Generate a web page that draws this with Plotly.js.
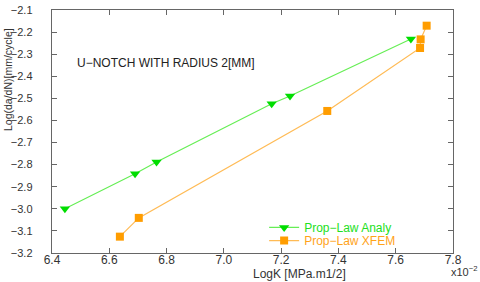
<!DOCTYPE html>
<html><head><meta charset="utf-8">
<script src="https://cdn.plot.ly/plotly-3.0.1.min.js"></script>
<style>html,body{margin:0;padding:0;background:#fff}#c{width:480px;height:282px}</style>
</head><body><div id="c"></div>
<script>
const analyX = [6.445, 6.69, 6.765, 7.167, 7.231, 7.653];
const analyY = [-3.0, -2.841, -2.788, -2.524, -2.489, -2.231];
const xfemX = [6.637, 6.703, 7.361, 7.685, 7.687, 7.708];
const xfemY = [-3.126, -3.041, -2.557, -2.272, -2.233, -2.171];
const xTicks = [6.4, 6.6, 6.8, 7.0, 7.2, 7.4, 7.6, 7.8];
const yTicks = [-2.1, -2.2, -2.3, -2.4, -2.5, -2.6, -2.7, -2.8, -2.9, -3.0, -3.1, -3.2];
const seriesNames = ['Prop\u2212Law Analy', 'Prop\u2212Law XFEM'];
const titleText = 'U\u2212NOTCH WITH RADIUS 2[MM]';
const xLabel = 'LogK [MPa.m1/2]';
const yLabel = 'Log(da/dN)[mm/cycle]';

const font = 'Liberation Sans, Arial, sans-serif';
const traces = [
  {x: analyX, y: analyY, mode: 'lines+markers', name: '<span style="color:#22e022">' + seriesNames[0] + '</span>', legend: 'legend',
   line: {color: '#66ee55', width: 1.2}, marker: {symbol: 'triangle-down', size: 9, color: '#00dd00'}},
  {x: xfemX, y: xfemY, mode: 'lines+markers', name: '<span style="color:#ffa31a">' + seriesNames[1] + '</span>', legend: 'legend2',
   line: {color: '#ffbb55', width: 1.2}, marker: {symbol: 'square', size: 8, color: '#ff9d00'}}
];
const axisCommon = {showgrid: false, zeroline: false, showline: true, linecolor: '#666', linewidth: 1.3,
  mirror: 'ticks', ticks: 'inside', ticklen: 5, tickcolor: '#666'};
const legendCommon = {xanchor: 'left', yanchor: 'top', bgcolor: 'rgba(0,0,0,0)', font: {family: font, size: 12}};
const layout = {
  width: 480, height: 282, margin: {l: 52, r: 27, t: 10, b: 29},
  paper_bgcolor: '#fff', plot_bgcolor: '#fff', font: {family: font},
  xaxis: Object.assign({}, axisCommon, {range: [6.4, 7.8], tickvals: xTicks, ticktext: xTicks.map(v => v.toFixed(1)), ticklabelstandoff: -5,
    tickfont: {family: font, size: 12, color: '#333'}}),
  yaxis: Object.assign({}, axisCommon, {range: [-3.2, -2.1], tickvals: yTicks, ticktext: yTicks.map(v => '\u2212' + Math.abs(v).toFixed(1)), ticklabelstandoff: 16,
    tickfont: {family: font, size: 11, color: '#333'}}),
  showlegend: true,
  legend: Object.assign({}, legendCommon, {x: 0.529, y: 0.165}),
  legend2: Object.assign({}, legendCommon, {x: 0.529, y: 0.111}),
  annotations: [
    {text: titleText, xref: 'paper', yref: 'paper', x: (75-52)/401, y: (253-63)/243, xanchor: 'left', yanchor: 'middle', showarrow: false, font: {family: font, size: 12, color: '#222'}},
    {text: xLabel, xref: 'paper', yref: 'paper', x: (299-52)/401, y: (253-274)/243, xanchor: 'center', yanchor: 'middle', showarrow: false, font: {family: font, size: 12, color: '#333'}},
    {text: 'x10<sup>\u22122</sup>', xref: 'paper', yref: 'paper', x: (465-52)/401, y: (253-271)/243, xanchor: 'center', yanchor: 'middle', showarrow: false, font: {family: font, size: 11, color: '#333'}},
    {text: yLabel, xref: 'paper', yref: 'paper', x: (8-52)/401, y: (253-80)/243, xanchor: 'center', yanchor: 'middle', textangle: -90, showarrow: false, font: {family: font, size: 10.5, color: '#333'}}
  ]
};
Plotly.newPlot('c', traces, layout, {displayModeBar: false, staticPlot: true});
</script></body></html>
